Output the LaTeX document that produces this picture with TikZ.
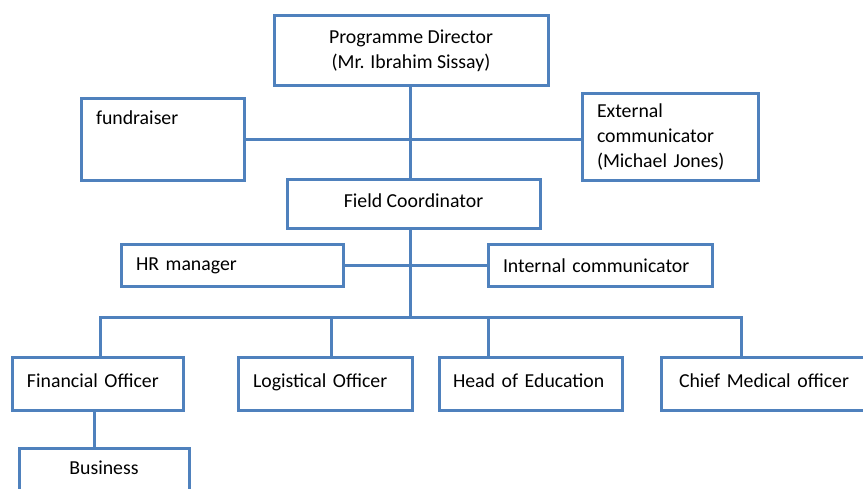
\documentclass[tikz,border=0pt]{standalone}
\usepackage{fontspec}
\setmainfont{Carlito}
\definecolor{orgblue}{HTML}{4F81BD}

\begin{document}
\begin{tikzpicture}[x=1pt,y=-1pt,
  unit/.style={draw=orgblue, line width=3pt, fill=white, inner xsep=15pt,
    font=\fontsize{19.8}{25}\selectfont},
  flat/.style={text height=12pt, text depth=5pt},
  link/.style={draw=orgblue, line width=3pt}]
\useasboundingbox (0,0) rectangle (863,489);
\clip (0,0) rectangle (863,489);

\node[unit, minimum width=274pt, minimum height=70pt, align=center] (pd) at (411,51)
  {Programme Director\\(Mr. Ibrahim Sissay)};
\node[unit, anchor=north, minimum width=163pt, text width=133pt, align=left,
  inner ysep=12pt, text height=14pt, text depth=44pt] (fund) at (162.5,97) {fundraiser};
\node[unit, minimum width=176pt, minimum height=87pt, text width=146pt, align=left] (ext) at (670,137.5)
  {External\\communicator\\(Michael Jones)};
\node[unit, flat, minimum width=253pt, minimum height=49pt] (fc) at (413.5,204.5) {Field Coordinator};
\node[unit, minimum width=222pt, minimum height=42pt, text width=192pt, align=left] (hr) at (232,266) {HR manager};
\node[unit, minimum width=224pt, minimum height=42pt, text width=194pt, align=left] (ic) at (600,266) {Internal communicator};

\node[unit, flat, minimum width=171pt, minimum height=52pt, text width=141pt, align=left] (fo) at (97.5,384) {Financial Officer};
\node[unit, flat, minimum width=174pt, minimum height=52pt, text width=144pt, align=left] (lo) at (325,384) {Logistical Officer};
\node[unit, flat, minimum width=183pt, minimum height=52pt, text width=155pt, inner xsep=14pt, align=left] (he) at (530.5,384) {Head of Education};
\node[unit, flat, minimum width=230pt, minimum height=52pt, text width=194pt, inner xsep=18pt, align=left] (cm) at (776,384) {Chief Medical officer};
\node[unit, anchor=north, minimum width=170pt, text height=21pt, text depth=30pt, inner ysep=5pt] (bus) at (104,447) {Business};

\coordinate (hub) at (410,318);
\coordinate (dropA) at (100,318);
\coordinate (dropB) at (331,318);
\coordinate (dropC) at (488,318);
\coordinate (dropD) at (741,318);
\coordinate (fbx) at (94,430);

\draw[link] (hub |- pd.south) -- (hub |- fc.north);
\draw[link] (fund.east) -- (fund.east -| ext.west);
\draw[link] (hr.east) -- (ic.west);
\draw[link] (hub |- fc.south) -- (hub);
\draw[link] (dropA |- fo.north) -- (dropA) -- (dropD) -- (dropD |- cm.north);
\foreach \d/\n in {dropB/lo, dropC/he}
  \draw[link] (\d) -- (\d |- \n.north);
\draw[link] (fbx |- fo.south) -- (fbx |- bus.north);
\end{tikzpicture}
\end{document}
